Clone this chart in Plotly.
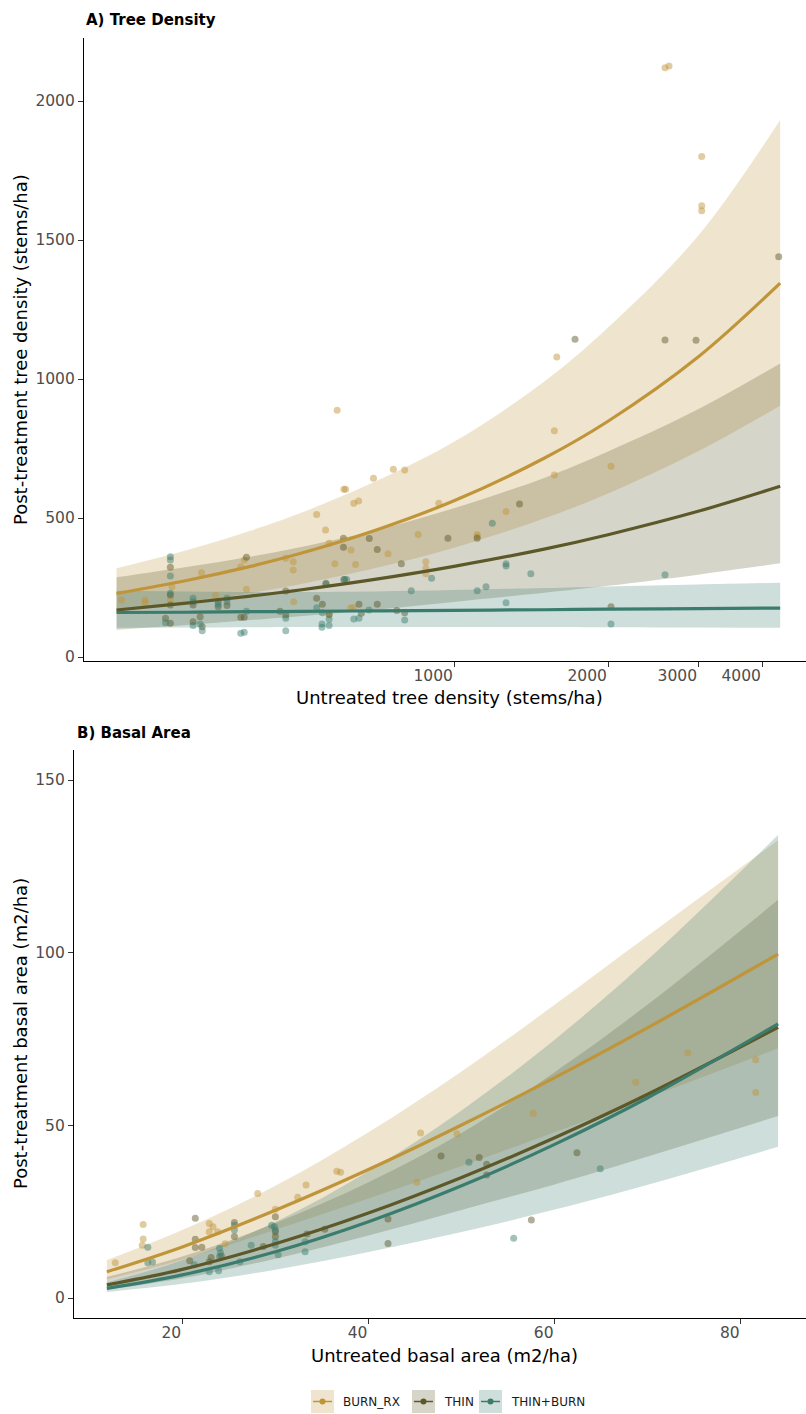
import plotly.graph_objects as go

W, H = 806, 1414
FONT = "DejaVu Sans"

# ---------------- data ----------------
groups = ["BURN_RX", "THIN", "THIN+BURN"]
colors = {"BURN_RX": (192, 149, 58), "THIN": (92, 88, 41), "THIN+BURN": (58, 125, 110)}

# Panel A: tree density (stems/ha) -- observed points
dens_burn_x = [224, 249, 249, 279, 281, 321, 342, 383, 389, 393, 469, 485, 485, 486, 539, 561, 570, 585,
               609, 614, 629, 637, 642, 651, 696, 743, 761, 801, 851, 881, 881, 881, 934, 628, 635, 570,
               591, 1110, 1110, 1264, 1571, 1571, 1588, 2027, 2585, 2632, 3049, 3049, 3049]
dens_burn_y = [205, 205, 194, 205, 253, 303, 221, 325, 349, 244, 355, 343, 313, 199, 513, 457, 409, 335,
               603, 603, 385, 553, 333, 561, 643, 371, 675, 673, 441, 343, 319, 299, 553, 177, 177, 151,
               888, 441, 433, 523, 814, 655, 1079, 686, 2120, 2126, 1800, 1623, 1605]
dens_thin_x = [279, 279, 279, 273, 279, 309, 309, 319, 322, 346, 360, 383, 389, 393, 457, 469, 469, 539,
               553, 562, 570, 608, 608, 611, 652, 659, 683, 708, 708, 773, 789, 801, 973, 1110, 1343,
               2027, 1724, 2585, 2972, 4312]
dens_thin_y = [323, 223, 187, 139, 121, 187, 127, 145, 109, 181, 185, 143, 143, 359, 165, 237, 151, 211,
               190, 265, 154, 427, 395, 279, 190, 157, 426, 387, 190, 167, 335, 159, 427, 427, 550,
               181, 1143, 1140, 1139, 1440]
dens_tb_x = [279, 279, 279, 279, 273, 309, 309, 309, 319, 322, 346, 346, 360, 360, 383, 389, 393, 469,
             469, 539, 553, 552, 552, 562, 570, 570, 609, 617, 637, 652, 682, 801, 825, 904, 1188, 1264,
             1264, 1413, 2585, 1110, 1155, 1264, 2027]
dens_tb_y = [361, 349, 291, 229, 123, 211, 199, 113, 119, 94, 199, 190, 211, 199, 85, 89, 165, 139,
             94, 177, 159, 119, 107, 262, 136, 113, 279, 279, 137, 139, 169, 133, 238, 283, 481, 335,
             327, 299, 296, 238, 253, 195, 119]

# Panel A: fitted curves with confidence bands
dens_fit_x = [219, 300, 400, 500, 700, 1000, 1500, 2000, 3000, 4340]
dens_burn_fit = [228, 275, 326, 372, 455, 562, 715, 848, 1079, 1345]
dens_burn_lo = [163, 195, 230, 262, 319, 393, 498, 588, 740, 904]
dens_burn_hi = [319, 384, 454, 517, 630, 774, 990, 1185, 1515, 1932]
dens_thin_fit = [169, 194, 219, 241, 279, 326, 388, 440, 524, 614]
dens_thin_lo = [98, 115, 133, 147, 170, 198, 231, 256, 296, 337]
dens_thin_hi = [287, 324, 361, 395, 455, 535, 644, 739, 891, 1056]
dens_tb_fit = [160, 161, 163, 164, 166, 168, 170, 172, 174, 176]
dens_tb_lo = [105, 106, 107, 108, 108, 108, 108, 107, 106, 105]
dens_tb_hi = [238, 236, 234, 234, 236, 241, 248, 254, 261, 267]

# Panel B: basal area (m2/ha) -- observed points
ba_burn_x = [12.8, 15.8, 15.8, 15.7, 22.9, 23.3, 22.9, 23.8, 24.6, 28.1, 30.0, 32.4, 33.3, 36.6, 37.0,
             45.6, 45.2, 49.5, 57.7, 68.7, 74.3, 81.6, 81.6]
ba_burn_y = [10.2, 21.3, 17.1, 15.3, 21.6, 20.6, 19.2, 19.2, 15.7, 30.3, 25.7, 29.2, 32.7, 36.7, 36.4,
             47.8, 33.5, 47.6, 53.5, 62.5, 71.0, 69.0, 59.5]
ba_thin_x = [21.4, 21.4, 21.4, 22.1, 20.8, 23.1, 22.9, 24.2, 25.6, 25.6, 28.7, 30.0, 30.0, 30.0, 33.4,
             35.3, 42.1, 42.1, 47.8, 51.9, 52.7, 52.7, 57.5, 62.4]
ba_thin_y = [23.1, 17.0, 14.6, 14.7, 10.8, 11.7, 10.5, 12.2, 21.9, 17.8, 14.9, 23.5, 19.2, 17.8, 18.5,
             19.9, 22.9, 15.8, 41.1, 40.7, 38.7, 35.6, 22.6, 42.1]
ba_tb_x = [16.3, 16.3, 16.8, 21.3, 22.9, 23.9, 24.0, 24.1, 24.0, 25.6, 25.6, 26.2, 27.4, 29.6, 29.9,
           30.0, 30.0, 30.0, 30.3, 33.2, 33.2, 50.8, 55.6, 64.9]
ba_tb_y = [14.7, 10.2, 10.4, 9.6, 7.6, 7.9, 14.4, 13.1, 12.0, 21.1, 19.7, 10.5, 15.3, 21.1, 20.6,
           19.7, 16.3, 15.3, 12.5, 16.3, 13.4, 39.3, 17.3, 37.4]

# Panel B: fitted curves with confidence bands
ba_fit_x = [11.9, 20, 30, 40, 50, 60, 70, 84]
ba_burn_fit = [7.6, 14.8, 25.4, 37.2, 50.1, 63.8, 78.3, 99.6]
ba_burn_lo = [5.4, 11.1, 19.8, 28.8, 38.2, 48.0, 58.0, 72.3]
ba_burn_hi = [11.0, 19.7, 32.5, 48.0, 65.6, 84.9, 104.9, 132.6]
ba_thin_fit = [3.8, 8.3, 15.7, 24.6, 34.9, 46.4, 59.0, 78.4]
ba_thin_lo = [2.4, 5.7, 11.4, 18.1, 25.5, 32.9, 41.0, 52.7]
ba_thin_hi = [6.1, 12.0, 21.7, 33.5, 47.8, 65.4, 85.0, 115.3]
ba_tb_fit = [2.8, 6.7, 13.4, 22.1, 32.5, 44.5, 58.0, 79.4]
ba_tb_lo = [1.75, 4.1, 8.2, 13.3, 19.1, 25.6, 32.8, 43.8]
ba_tb_hi = [4.5, 10.9, 22.0, 36.7, 54.3, 74.8, 98.0, 134.1]

dens_ticks = [1000, 2000, 3000, 4000]
dens_yticks = [0, 500, 1000, 1500, 2000]
ba_ticks = [20, 40, 60, 80]
ba_yticks = [0, 50, 100, 150]

# ---------------- helpers ----------------
def rgb(g, a=1.0):
    r, gg, b = colors[g]
    return f"rgba({r},{gg},{b},{a})"

def rgb_on_white(g, a):
    r, gg, b = colors[g]
    mix = lambda c: int(round(255 * (1 - a) + c * a))
    return f"rgb({mix(r)},{mix(gg)},{mix(b)})"

def PX(x):
    return x / W

def PY(y):
    return 1 - y / H

fig = go.Figure()

panelA = {
    "fit_x": dens_fit_x,
    "fits": {"BURN_RX": (dens_burn_fit, dens_burn_lo, dens_burn_hi),
             "THIN": (dens_thin_fit, dens_thin_lo, dens_thin_hi),
             "THIN+BURN": (dens_tb_fit, dens_tb_lo, dens_tb_hi)},
    "pts": {"BURN_RX": (dens_burn_x, dens_burn_y),
            "THIN": (dens_thin_x, dens_thin_y),
            "THIN+BURN": (dens_tb_x, dens_tb_y)},
    "xa": "x", "ya": "y",
}
panelB = {
    "fit_x": ba_fit_x,
    "fits": {"BURN_RX": (ba_burn_fit, ba_burn_lo, ba_burn_hi),
             "THIN": (ba_thin_fit, ba_thin_lo, ba_thin_hi),
             "THIN+BURN": (ba_tb_fit, ba_tb_lo, ba_tb_hi)},
    "pts": {"BURN_RX": (ba_burn_x, ba_burn_y),
            "THIN": (ba_thin_x, ba_thin_y),
            "THIN+BURN": (ba_tb_x, ba_tb_y)},
    "xa": "x2", "ya": "y2",
}

for P in (panelA, panelB):
    # ribbons
    for g in groups:
        fit, lo, hi = P["fits"][g]
        fig.add_trace(go.Scatter(x=P["fit_x"], y=lo, mode="lines", line=dict(width=0, shape="spline"),
                                 xaxis=P["xa"], yaxis=P["ya"], showlegend=False, hoverinfo="skip"))
        fig.add_trace(go.Scatter(x=P["fit_x"], y=hi, mode="lines", line=dict(width=0, shape="spline"),
                                 fill="tonexty", fillcolor=rgb(g, 0.25),
                                 xaxis=P["xa"], yaxis=P["ya"], showlegend=False, hoverinfo="skip"))
    # points
    for g in groups:
        xs, ys = P["pts"][g]
        fig.add_trace(go.Scatter(x=xs, y=ys, mode="markers",
                                 marker=dict(size=7, color=rgb(g, 0.48), line=dict(width=0)),
                                 xaxis=P["xa"], yaxis=P["ya"], showlegend=False))
    # fitted lines
    for g in groups:
        fit, lo, hi = P["fits"][g]
        fig.add_trace(go.Scatter(x=P["fit_x"], y=fit, mode="lines",
                                 line=dict(color=rgb(g), width=3.2, shape="spline"),
                                 xaxis=P["xa"], yaxis=P["ya"], showlegend=False))

axis_common = dict(showline=True, linecolor="black", linewidth=1.1, ticks="outside", ticklen=5,
                   tickwidth=1.1, tickcolor="#333333", showgrid=False, zeroline=False, automargin=False,
                   tickfont=dict(family=FONT, size=15.5, color="#4d4d4d"))

fig.update_layout(
    width=W, height=H,
    margin=dict(l=0, r=0, t=0, b=0, pad=0, autoexpand=False),
    paper_bgcolor="white", plot_bgcolor="white",
    showlegend=False,
    xaxis=dict(domain=[PX(84), 1.0], type="log", range=[2.2768, 3.688], anchor="y",
               tickvals=dens_ticks, ticktext=[str(v) for v in dens_ticks],
               ticklabelposition="outside left", **axis_common),
    yaxis=dict(domain=[PY(661), PY(38)], range=[-14.4, 2226.6], anchor="x",
               tickvals=dens_yticks, ticktext=[str(v) for v in dens_yticks], **axis_common),
    xaxis2=dict(domain=[PX(74), 1.0], range=[8.37, 87.0], anchor="y2",
                tickvals=ba_ticks, ticktext=[str(v) for v in ba_ticks],
                ticklabelposition="outside left", **axis_common),
    yaxis2=dict(domain=[PY(1318), PY(750)], range=[-5.79, 158.7], anchor="x2",
                tickvals=ba_yticks, ticktext=[str(v) for v in ba_yticks], **axis_common),
)

ann = []
# panel titles
ann.append(dict(text="<b>A) Tree Density</b>", x=PX(84), y=PY(20), xanchor="left", yanchor="middle",
                font=dict(family=FONT, size=15, color="black")))
ann.append(dict(text="<b>B) Basal Area</b>", x=PX(75), y=PY(733), xanchor="left", yanchor="middle",
                font=dict(family=FONT, size=15, color="black")))
# axis titles
ann.append(dict(text="Untreated tree density (stems/ha)", x=PX(449), y=PY(697), xanchor="center",
                yanchor="middle", font=dict(family=FONT, size=18, color="black")))
ann.append(dict(text="Post-treatment tree density (stems/ha)", x=PX(20), y=PY(350), xanchor="center",
                yanchor="middle", textangle=-90, font=dict(family=FONT, size=18, color="black")))
ann.append(dict(text="Untreated basal area (m2/ha)", x=PX(444), y=PY(1355), xanchor="center",
                yanchor="middle", font=dict(family=FONT, size=18, color="black")))
ann.append(dict(text="Post-treatment basal area (m2/ha)", x=PX(20), y=PY(1034), xanchor="center",
                yanchor="middle", textangle=-90, font=dict(family=FONT, size=18, color="black")))

# legend (manual, ggplot style keys)
shapes = []
key_left = {"BURN_RX": 311, "THIN": 412, "THIN+BURN": 479}
ky0, ky1 = 1390, 1413
kyc = (ky0 + ky1) / 2
for g in groups:
    x0 = key_left[g]
    x1 = x0 + 23
    shapes.append(dict(type="rect", xref="paper", yref="paper", x0=PX(x0), x1=PX(x1), y0=PY(ky1), y1=PY(ky0),
                       fillcolor=rgb_on_white(g, 0.25), line=dict(width=0), layer="above"))
    shapes.append(dict(type="line", xref="paper", yref="paper", x0=PX(x0 + 2), x1=PX(x1 - 2), y0=PY(kyc),
                       y1=PY(kyc), line=dict(color=rgb(g), width=1.5), layer="above"))
    shapes.append(dict(type="circle", xref="paper", yref="paper", x0=PX(x0 + 8.5), x1=PX(x0 + 14.5),
                       y0=PY(kyc + 3), y1=PY(kyc - 3), fillcolor=rgb(g), line=dict(width=0),
                       layer="above"))
    ann.append(dict(text=g, x=PX(x1 + 7), y=PY(kyc), xanchor="left", yanchor="middle",
                    font=dict(family=FONT, size=12, color="#1a1a1a")))

for a in ann:
    a.update(xref="paper", yref="paper", showarrow=False)
fig.update_layout(annotations=ann, shapes=shapes)

# remove the browser's default page margin so the figure sits at the window's top-left corner
fig.write_html("out.html",
               config={"displayModeBar": False},
               post_script="document.body.style.margin='0px';document.body.style.overflow='hidden';")
